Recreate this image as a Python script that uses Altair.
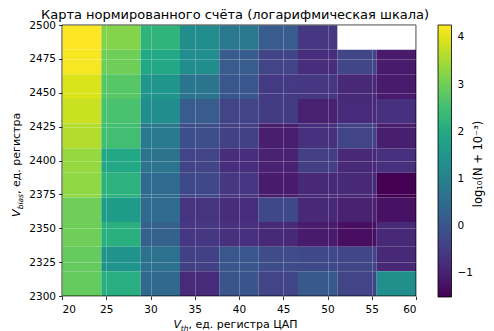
import altair as alt
import numpy as np
import pandas as pd

# Grid edges (9 columns in V_th, 11 rows in V_bias)
vth_edges = list(np.linspace(20, 60, 10))
vbias_edges = list(np.linspace(2300, 2500, 12))

x_ticks = [20, 25, 30, 35, 40, 45, 50, 55, 60]
y_ticks = [2300, 2325, 2350, 2375, 2400, 2425, 2450, 2475, 2500]
cbar_ticks = [-1, 0, 1, 2, 3, 4]

# log10(N + 1e-3) values, rows from top (highest V_bias) to bottom
row_01 = [4.26, 3.20, 2.25, 1.30, 0.80, 0.15, -0.60, None, None]
row_02 = [4.20, 3.00, 1.95, 1.30, 0.15, -0.35, -0.75, -0.30, -1.10]
row_03 = [3.95, 2.75, 1.50, 0.72, 0.05, -0.55, -0.60, -0.85, -1.10]
row_04 = [3.80, 2.60, 1.30, 0.15, -0.35, -0.50, -1.00, -0.80, -0.70]
row_05 = [3.60, 2.50, 0.85, -0.14, -0.40, -1.05, -0.70, -0.35, -1.05]
row_06 = [3.35, 1.95, 0.70, -0.35, -0.75, -1.00, -0.45, -0.85, -0.70]
row_07 = [3.30, 2.20, 0.50, -0.25, -0.60, -1.10, -0.85, -0.85, -1.50]
row_08 = [3.00, 1.65, 0.50, -0.65, -0.75, -0.25, -0.85, -1.00, -1.25]
row_09 = [3.00, 2.15, 0.25, -0.60, -0.70, -0.85, -1.10, -1.30, -0.85]
row_10 = [2.90, 1.45, 0.65, -0.40, 0.05, -0.20, -0.25, -0.30, -0.85]
row_11 = [2.90, 2.10, 0.42, -0.80, 0.00, -0.35, 0.10, -0.35, 1.35]
rows = [row_01, row_02, row_03, row_04, row_05, row_06,
        row_07, row_08, row_09, row_10, row_11]

records = []
n_rows = len(rows)
for i, row in enumerate(rows):
    y_hi = vbias_edges[n_rows - i]
    y_lo = vbias_edges[n_rows - 1 - i]
    for j, v in enumerate(row):
        if v is None:
            continue
        records.append(dict(x=vth_edges[j], x2=vth_edges[j + 1],
                            y=y_lo, y2=y_hi, v=v))
df = pd.DataFrame(records)

W, H = 354, 271
FONT = "DejaVu Sans"
cscale = alt.Scale(scheme="viridis", domain=[-1.5, 4.26])

heat = alt.Chart(df).mark_rect(strokeWidth=0.4).encode(
    x=alt.X("x:Q", scale=alt.Scale(domain=[20, 60], nice=False, zero=False),
            axis=alt.Axis(values=x_ticks, title=None, grid=True, zindex=1,
                          format="d", labelPadding=4.5)),
    x2="x2:Q",
    y=alt.Y("y:Q", scale=alt.Scale(domain=[2300, 2500], nice=False, zero=False),
            axis=alt.Axis(values=y_ticks, title=None, grid=True, zindex=1,
                          format="d")),
    y2="y2:Q",
    color=alt.Color("v:Q", scale=cscale, legend=alt.Legend(
        type="gradient",
        orient="none", legendX=376, legendY=0, direction="vertical",
        gradientLength=272, gradientThickness=13.5,
        gradientStrokeColor="black", gradientStrokeWidth=0.8,
        values=cbar_ticks, labelFont=FONT, labelFontSize=10.5,
        labelColor="black", labelOffset=6, labelOverlap=False,
        title=None, padding=0,
        labelExpr="replace(datum.label, '-', '\u2212')")),
)

frame = alt.Chart(pd.DataFrame({"a": [0]})).mark_rect(
    fillOpacity=0, stroke="black", strokeWidth=0.8
).encode(x=alt.value(0), x2=alt.value(W), y=alt.value(0), y2=alt.value(H))


def txt(s, x, y, size=11, style="normal", angle=0, align="left"):
    return alt.Chart(pd.DataFrame({"a": [0]})).mark_text(
        text=s, font=FONT, fontSize=size, fontStyle=style, angle=angle,
        align=align, baseline="alphabetic", color="black"
    ).encode(x=alt.value(x), y=alt.value(y))


# x-axis title: V_th, ед. регистра ЦАП
P = 126.5
xt = [
    txt("V", P - 7.5, 303, 11, "italic", 0, "right"),
    txt("th", P, 305.5, 7.5, "italic", 0, "right"),
    txt(", ед. регистра ЦАП", P, 303, 11, "normal", 0, "left"),
]
# y-axis title: V_bias, ед. регистра
Q = 169
yt = [
    txt("V", -42, Q + 15.4, 11, "italic", 270, "right"),
    txt("bias", -39.5, Q, 7.5, "italic", 270, "right"),
    txt(", ед. регистра", -42, Q, 11, "normal", 270, "left"),
]
# colorbar label
ct = [txt("log\u2081\u2080(N + 10\u207b\u00b3)", 420, 139, 11.5, "normal", 270, "center")]

chart = alt.layer(heat, frame, *xt, *yt, *ct).properties(
    width=W, height=H,
    title=alt.TitleParams("Карта нормированного счёта (логарифмическая шкала)",
                          font=FONT, fontSize=13, fontWeight="normal",
                          color="black", anchor="middle", offset=-2, dx=-4),
    autosize=alt.AutoSizeParams(type="none"),
    padding={"left": 54, "top": 17, "right": 70, "bottom": 36},
).configure_view(stroke=None).configure_axis(
    labelFont=FONT, labelFontSize=10.5, labelColor="black",
    tickColor="black", tickSize=3.5, tickWidth=0.8, labelPadding=3,
    domain=False, gridColor="white", gridOpacity=0.3, gridWidth=0.8,
)

chart.save("out.html", embed_options={"renderer": "svg", "actions": False})
